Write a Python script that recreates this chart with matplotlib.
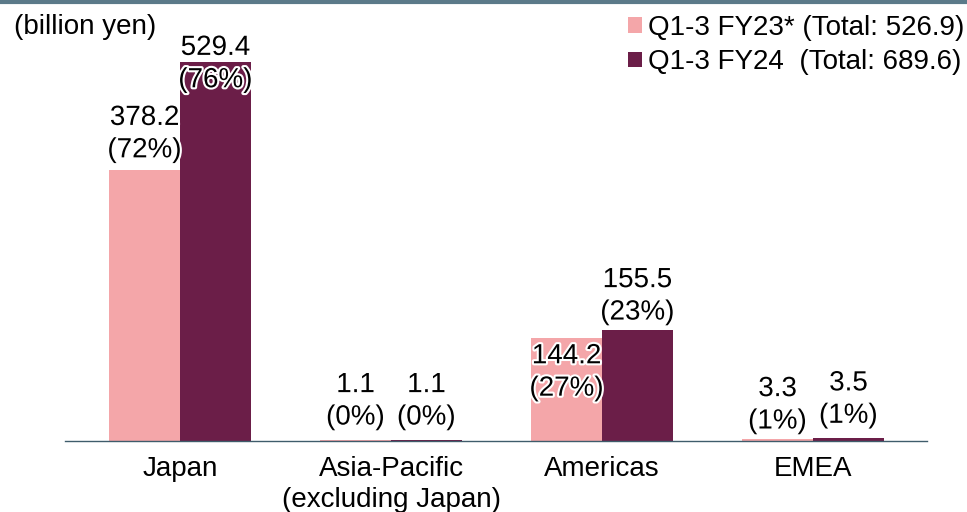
import matplotlib.pyplot as plt
import matplotlib.patheffects as pe
import numpy as np

plt.rcParams['font.family'] = ['Liberation Sans', 'DejaVu Sans']

regions = ['Japan', 'Asia-Pacific\n(excluding Japan)', 'Americas', 'EMEA']
fy23 = [378.2, 1.1, 144.2, 3.3]
fy24 = [529.4, 1.1, 155.5, 3.5]
fy23_pct = [72, 0, 27, 1]
fy24_pct = [76, 0, 23, 1]
legend_labels = ['Q1-3 FY23* (Total: 526.9)', 'Q1-3 FY24  (Total: 689.6)']

# vertical offset of each label centre from its bar top, in points
fy23_off = [26, 28, -25, 24]
fy24_off = [-1.5, 28, 24, 28]

pink = '#F4A6A9'
plum = '#6B1E48'
fs = 20

fig = plt.figure(figsize=(9.67, 5.12), dpi=100)
ax = fig.add_axes([65 / 967, 1 - 441 / 512, 862 / 967, 441 / 512])

x = np.arange(len(regions))
w = 0.336
ax.bar(x - w / 2, fy23, w, color=pink, label=legend_labels[0])
ax.bar(x + w / 2, fy24, w, color=plum, label=legend_labels[1])

halo = [pe.withStroke(linewidth=3, foreground='white')]
for xs, vals, pcts, offs in [(x - w / 2, fy23, fy23_pct, fy23_off),
                             (x + w / 2, fy24, fy24_pct, fy24_off)]:
    for xi, v, p, o in zip(xs, vals, pcts, offs):
        ax.annotate(f'{v:.1f}\n({p}%)', (xi, v), xytext=(0, o),
                    textcoords='offset points', ha='center', va='center',
                    fontsize=fs, linespacing=1.32, path_effects=halo)

ax.set_xlim(-0.545, 3.54)
ax.set_ylim(0, 616)
ax.set_xticks(x)
ax.set_xticklabels(regions, fontsize=fs, linespacing=1.25, va='top')
ax.tick_params(axis='x', length=0, pad=10.5)
ax.set_yticks([])
for s in ['top', 'right', 'left']:
    ax.spines[s].set_visible(False)
ax.spines['bottom'].set_color('#3F5C6B')
ax.spines['bottom'].set_linewidth(1.0)

ax.legend(loc='upper right', bbox_to_anchor=(964 / 967, 1 - 15 / 512),
          bbox_transform=fig.transFigure, frameon=False, fontsize=fs,
          handlelength=0.5, handleheight=0.5, handletextpad=0.2,
          labelspacing=0.3, borderaxespad=0, borderpad=0)

fig.text(14 / 967, 1 - 27 / 512, '(billion yen)', fontsize=fs, va='center')
fig.add_artist(plt.Line2D([0, 1], [1 - 1.5 / 512] * 2, color='#5B7A89',
                          linewidth=3, transform=fig.transFigure))

fig.savefig('out.png', dpi=100)
